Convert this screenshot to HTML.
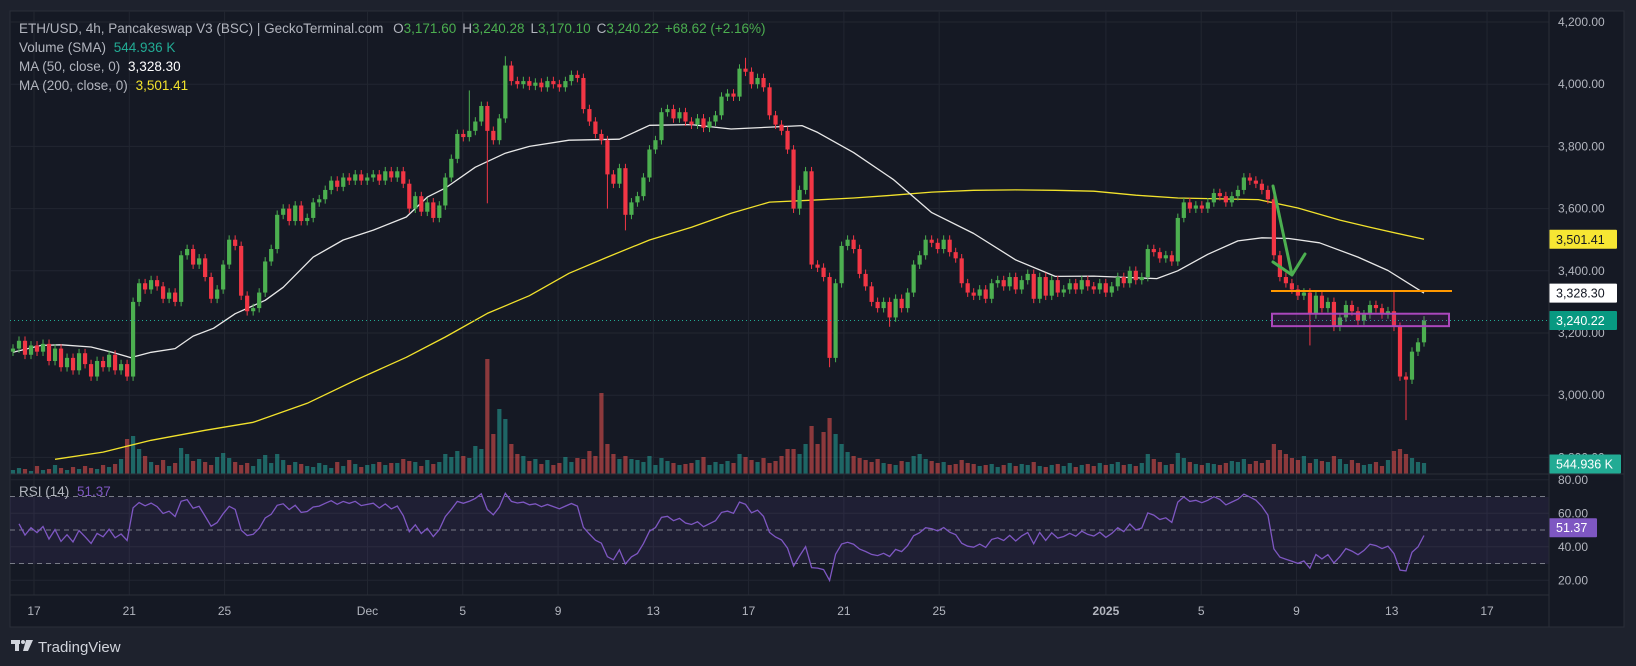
<!DOCTYPE html>
<html><head><meta charset="utf-8">
<style>
html,body{margin:0;padding:0;background:#1e222d;}
svg{display:block;font-family:"Liberation Sans",sans-serif;}
</style></head>
<body>
<svg id="chart" width="1636" height="666" viewBox="0 0 1636 666" xmlns="http://www.w3.org/2000/svg">
  <defs>
    <clipPath id="mainClip"><rect x="10" y="11" width="1539" height="463"/></clipPath>
    <clipPath id="rsiClip"><rect x="10" y="474" width="1539" height="121"/></clipPath>
  </defs>
  <rect x="0" y="0" width="1636" height="666" fill="#1e222d"/>
  <rect x="10" y="11" width="1614" height="616" fill="#151924" stroke="#2a2e39" stroke-width="1"/>
  <g id="grid"></g>
  <rect x="10" y="497" width="1539" height="67" fill="rgba(126,87,194,0.10)"/>
  <g id="rsiDash"></g>
  <g id="volume" clip-path="url(#mainClip)"></g>
  <g id="mas" clip-path="url(#mainClip)"></g>
  <g id="candles" clip-path="url(#mainClip)"></g>
  <g id="rsi" clip-path="url(#rsiClip)"></g>
  <g id="annot"></g>
  <g id="axes"></g>
  <line x1="10" y1="474" x2="1624" y2="474" stroke="#2a2e39" stroke-width="1"/>
  <line x1="10" y1="595" x2="1549" y2="595" stroke="#2a2e39" stroke-width="1"/>
  <line x1="1549" y1="11" x2="1549" y2="627" stroke="#2a2e39" stroke-width="1"/>

  <g font-size="13.5">
    <text x="19" y="33" fill="#b2b5be">ETH/USD, 4h, Pancakeswap V3 (BSC) | GeckoTerminal.com <tspan dx="6">O</tspan><tspan fill="#4caf50">3,171.60</tspan><tspan dx="6">H</tspan><tspan fill="#4caf50">3,240.28</tspan><tspan dx="6">L</tspan><tspan fill="#4caf50">3,170.10</tspan><tspan dx="6">C</tspan><tspan fill="#4caf50">3,240.22</tspan><tspan dx="6" fill="#4caf50">+68.62 (+2.16%)</tspan></text>
    <text x="19" y="52" fill="#b2b5be">Volume (SMA) <tspan dx="4" fill="#22ab94">544.936 K</tspan></text>
    <text x="19" y="71" fill="#b2b5be">MA (50, close, 0) <tspan dx="4" fill="#ffffff">3,328.30</tspan></text>
    <text x="19" y="90" fill="#b2b5be">MA (200, close, 0) <tspan dx="4" fill="#f2e22c">3,501.41</tspan></text>
    <text x="19" y="496" fill="#b2b5be">RSI (14) <tspan dx="4" fill="#7e57c2">51.37</tspan></text>
  </g>

  <g>
    <rect x="11" y="640" width="9" height="4" fill="#d1d4dc"/>
    <rect x="15" y="640" width="4" height="11" fill="#d1d4dc"/>
    <circle cx="23" cy="642" r="2" fill="#d1d4dc"/>
    <polygon points="26,640 33,640 28,651 23,651" fill="#d1d4dc"/>
    <text x="38" y="652" font-size="15" fill="#d1d4dc">TradingView</text>
  </g>
</svg>
<script>
// ---------- data ----------
const closes = [
3150,3175,3130,3160,3140,3165,3110,3150,3090,3120,
3080,3135,3100,3060,3110,3090,3130,3080,3100,3060,
3300,3360,3340,3370,3350,3310,3330,3300,3450,3470,
3420,3440,3380,3310,3340,3420,3500,3480,3320,3270,
3280,3330,3430,3470,3580,3600,3560,3610,3560,3570,
3620,3630,3660,3690,3670,3700,3690,3710,3690,3700,
3710,3690,3720,3700,
3720,3680,3600,3640,3590,3620,3570,3610,3700,3760,
3840,3830,3850,3880,3930,3850,3820,3890,4060,4010,
4000,4010,3995,4005,3990,4010,4000,3990,4010,4030,
4020,3920,3880,3840,3820,3710,3680,3730,3580,3620,
3640,3700,3790,3820,3910,3920,3890,3910,3880,
3870,3890,3860,3880,3900,3960,3970,3960,
4050,4040,4000,4020,3990,3900,3870,3850,3790,3600,
3660,3720,3420,3410,3380,3120,3360,3480,3500,3470,
3390,3350,3300,3280,3300,3250,3310,3280,3330,3420,
3450,3500,3490,3470,3500,3460,3440,3360,3330,3320,
3340,3310,3360,3370,3350,3380,3340,3370,3390,3310,
3380,3320,3370,3330,3340,3360,3340,3370,3350,
3340,3360,3330,3350,3380,3360,3400,3370,3380,3470,
3460,3440,3450,3430,3570,3620,3600,3610,3600,3620,
3650,3640,3620,3640,3660,3700,3690,3680,3660,3630,
3450,3380,3360,3340,3320,3330,3260,3320,3280,3300,
3220,3250,3290,3270,3240,3260,3290,3280,3260,3270,
3220,3060,3050,3140,3170,3240.22];
const firstOpen = 3140;
const wickHighs = {76:3980,82:4090,122:4085,230:3335};
const wickLows = {79:3617,99:3600,102:3530,131:3580,136:3090,146:3220,216:3160,232:2920};
const volumes = [
40,60,50,30,80,40,50,90,60,40, 70,50,80,60,50,90,70,100,150,350,
380,250,180,120,90,140,80,110,260,200, 130,150,120,90,170,210,160,120,90,110,
80,150,190,110,200,140,90,120,100,80, 70,110,90,60,120,80,140,100,70,90,
100,120,90,110,
110,150,130,120,80,140,100,120,200,170, 230,180,160,280,250,1150,400,650,550,300,
200,180,130,150,100,140,90,110,170,120, 160,150,230,180,810,300,200,150,180,150,
140,120,180,90,160,130,110,90,100, 110,140,170,90,120,100,130,110,
200,170,140,120,160,110,130,180,250,250, 200,300,480,300,420,560,400,300,220,180,
160,140,120,150,110,100,90,130,120,180, 200,150,130,110,120,90,100,140,110,100,
80,90,100,70,90,110,80,100,90,120, 80,70,90,100,80,110,70,90,100,
80,110,90,100,120,90,100,80,110,200, 150,120,90,100,210,160,120,100,90,110,
100,90,110,130,120,150,100,130,110,140, 300,240,200,160,140,180,110,150,130,120,
180,150,100,140,110,90,100,120,80,140, 230,250,200,160,120,110];
const ma50Idx = [0,4.7,8,13,16.5,19.6,23,27,30,33.4,37,42,45,50,55,60,65.5,69,72,77,82,86,92.6,101,106,113,119.6,131.4,134,140,146.6,153,160,167,173.6,180,190.5,194,199,204,208,212.5,217.6,224,229,235];
const ma50Val = [3138,3160,3162,3155,3138,3121,3138,3150,3190,3215,3262,3305,3347,3444,3499,3531,3573,3637,3666,3733,3778,3800,3820,3823,3868,3870,3856,3867,3845,3780,3694,3587,3520,3435,3382,3383,3375,3400,3453,3496,3506,3504,3490,3444,3401,3328.3];
const ma200Idx = [7,15,23,32,40,49,57,65.5,72,79,86,92.6,99,106,113,119.6,126,133,140,146.6,153,160,167,173.6,180,187,194,207.4,214,221,226,235];
const ma200Val = [2794,2817,2855,2887,2913,2974,3048,3122,3187,3263,3320,3392,3444,3499,3540,3585,3621,3627,3634,3643,3653,3659,3660,3659,3656,3643,3634,3629,3602,3563,3540,3501.41];
const priceTicks = [4200,4000,3800,3600,3400,3200,3000,2800];
const rsiTicks = [80,60,40,20];
const rsiLevels = [70,50,30];
const dayLabels = ["17","21","25","Dec","5","9","13","17","21","25","2025","5","9","13","17"];
const dayOffsets = [0,4,8,14,18,22,26,30,34,38,45,49,53,57,61];

// ---------- scales ----------
const NS = "http://www.w3.org/2000/svg";
const N = closes.length;
const xIdx = i => 13 + i * (1424 - 13) / (N - 1);
const yP = p => 22 + (4200 - p) * 0.3110;
const yR = v => 530 - (v - 50) * 1.675;
const xDay = d => 34 + d * 23.82;
const yVol = v => 474 - v * 0.1;
function mk(tag, attrs, parent){ const e=document.createElementNS(NS,tag); for(const k in attrs) e.setAttribute(k,attrs[k]); parent.appendChild(e); return e; }
const G = id => document.getElementById(id);

// grid
const grid = G('grid');
priceTicks.forEach(p=>{ const l=mk('line',{x1:10,x2:1549,y1:yP(p),y2:yP(p),stroke:'#222631','stroke-width':1},grid);
    });
rsiTicks.forEach(v=>{ const l=mk('line',{x1:10,x2:1549,y1:yR(v),y2:yR(v),stroke:'#222631','stroke-width':1},grid);
    });
dayOffsets.forEach(d=>{ const l=mk('line',{x1:xDay(d),x2:xDay(d),y1:11,y2:595,stroke:'#222631','stroke-width':1},grid);
    });
const rd = G('rsiDash');
rsiLevels.forEach(v=>{ const l=mk('line',{x1:10,x2:1549,y1:yR(v),y2:yR(v),stroke:'#787b86','stroke-width':1,'stroke-dasharray':'5,4'},rd);
    });

// candles & volume
const cg = G('candles'), vg = G('volume');
const bw = Math.max(2, (1424-13)/(N-1) * 0.7);
for(let i=0;i<N;i++){
  const o = i===0 ? firstOpen : closes[i-1], c = closes[i];
  const up = c >= o;
  const hi = wickHighs[i] !== undefined ? wickHighs[i] : Math.max(o,c) + 14;
  const lo = wickLows[i] !== undefined ? wickLows[i] : Math.min(o,c) - 14;
  const col = up ? '#4caf50' : '#f23645';
  const x = xIdx(i);
  const w = mk('line',{x1:x,x2:x,y1:yP(hi),y2:yP(lo),stroke:col,'stroke-width':1},cg);
   
  const top = yP(Math.max(o,c)), h = Math.max(1, yP(Math.min(o,c)) - top);
  const b = mk('rect',{x:x-bw/2,y:top,width:bw,height:h,fill:col},cg);
   
  const vb = mk('rect',{x:x-bw/2,y:yVol(volumes[i]),width:bw,height:474-yVol(volumes[i]),fill: up?'rgba(38,166,154,0.55)':'rgba(239,83,80,0.55)'},vg);
   
}

// moving averages
const mg = G('mas');
function poly(idx, vals, color, name){
  const pts = idx.map((k,j)=> xIdx(k).toFixed(1)+','+yP(vals[j]).toFixed(1)).join(' ');
  const pl = mk('polyline',{points:pts,fill:'none',stroke:color,'stroke-width':1.3,'stroke-linejoin':'round'},mg);
   
}
poly(ma200Idx, ma200Val, '#f2e22c', 'ma200-line');
poly(ma50Idx, ma50Val, '#e8e8e8', 'ma50-line');

// RSI from closes (Wilder smoothing, neutral seed)
const rsiVals = [];
let ag=12, al=12;
for(let i=1;i<N;i++){
  const d = closes[i]-closes[i-1];
  const g = Math.max(d,0), l = Math.max(-d,0);
  ag = (ag*13+g)/14; al = (al*13+l)/14;
  rsiVals.push([i, al===0?100:100-100/(1+ag/al)]);
}
const rpts = rsiVals.map(r=> xIdx(r[0]).toFixed(1)+','+yR(r[1]).toFixed(1)).join(' ');
const rl = mk('polyline',{points:rpts,fill:'none',stroke:'#7e57c2','stroke-width':1.3},G('rsi'));
 

// annotations
const an = G('annot');
const lastY = yP(closes[N-1]);
const dl = mk('line',{x1:10,x2:1549,y1:lastY,y2:lastY,stroke:'#22ab94','stroke-width':1,'stroke-dasharray':'1,3'},an);
 
const ol = mk('line',{x1:1271,x2:1452,y1:yP(3335),y2:yP(3335),stroke:'#ff9800','stroke-width':2},an);
 
const pr = mk('rect',{x:1272,y:yP(3262),width:177,height:yP(3222)-yP(3262),fill:'rgba(156,39,176,0.12)',stroke:'#ab47bc','stroke-width':2},an);
 
const ar = mk('path',{d:'M1273,186 L1292,275 M1273,262 L1292,275 L1305,254',fill:'none',stroke:'#4caf50','stroke-width':3,'stroke-linecap':'round','stroke-linejoin':'round'},an);
 

// axes labels
const ax = G('axes');
priceTicks.forEach(p=>{ const t=mk('text',{x:1558,y:yP(p)+4,'font-size':12,fill:'#b2b5be'},ax);
  t.textContent = p.toLocaleString('en-US',{minimumFractionDigits:2});
    });
rsiTicks.forEach(v=>{ const t=mk('text',{x:1558,y:yR(v)+4,'font-size':12,fill:'#b2b5be'},ax);
  t.textContent = v.toFixed(2);
    });
dayLabels.forEach((s,j)=>{ const t=mk('text',{x:xDay(dayOffsets[j]),y:615,'font-size':12,fill:'#b2b5be','text-anchor':'middle','font-weight':s==='2025'?'bold':'normal'},ax);
  t.textContent = s;
    });
function badge(y, txt, bg, fg, w, name){
  const g = mk('g',{},ax);
   
  mk('rect',{x:1549,y:y-9.5,width:w,height:19,fill:bg,rx:1},g);
  const t = mk('text',{x:1556,y:y+4.5,'font-size':12.5,fill:fg},g); t.textContent = txt;
}
badge(yP(3501.41),'3,501.41','#f7e633','#131722',68,'ma200-price-badge');
badge(yP(3328.30),'3,328.30','#ffffff','#131722',68,'ma50-price-badge');
badge(lastY,'3,240.22','#089981','#ffffff',68,'last-price-badge');
badge(464,'544.936 K','#22ab94','#ffffff',72,'volume-badge');
badge(yR(51.37),'51.37','#7e57c2','#ffffff',48,'rsi-value-badge');
</script>
</body></html>
